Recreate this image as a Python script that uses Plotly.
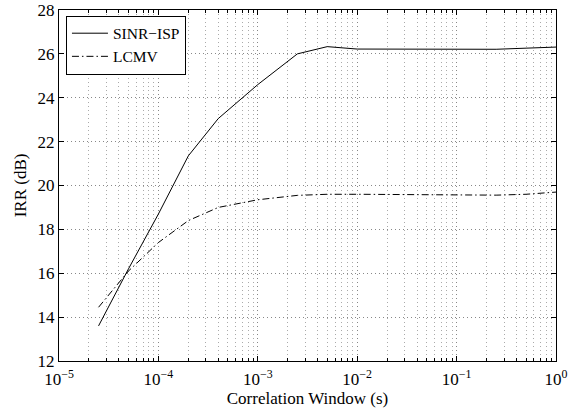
import plotly.graph_objects as go

# Data
window_s = [2.5e-5, 5e-5, 1e-4, 2e-4, 4e-4, 1e-3, 2.5e-3, 5e-3, 1e-2, 2.5e-2, 5e-2, 1e-1, 2.5e-1, 5e-1, 1.0]
sinr_isp = [13.6, 16.2, 18.7, 21.35, 23.05, 24.6, 26.0, 26.33, 26.22, 26.22, 26.22, 26.22, 26.21, 26.26, 26.31]
lcmv = [14.45, 16.1, 17.4, 18.4, 19.0, 19.35, 19.55, 19.6, 19.6, 19.58, 19.57, 19.57, 19.56, 19.6, 19.7]

x_tickvals = [1e-5, 1e-4, 1e-3, 1e-2, 1e-1, 1e0]
x_ticktext = ["10<sup>−5</sup>", "10<sup>−4</sup>", "10<sup>−3</sup>",
              "10<sup>−2</sup>", "10<sup>−1</sup>", "10<sup>0</sup>"]
y_tickvals = [12, 14, 16, 18, 20, 22, 24, 26, 28]

minor_vals = [k * 10.0 ** d for d in range(-5, 0) for k in range(2, 10)]

FONT = "Liberation Serif, Times New Roman, serif"
FS = 17

fig = go.Figure()
fig.add_trace(go.Scatter(x=window_s, y=sinr_isp, mode="lines", name="SINR−ISP",
                         line=dict(color="black", width=1)))
fig.add_trace(go.Scatter(x=window_s, y=lcmv, mode="lines", name="LCMV",
                         line=dict(color="black", width=1, dash="7px,3px,1.5px,3px")))

fig.update_layout(
    width=580, height=412,
    margin=dict(l=59, r=24, t=10, b=51, autoexpand=False),
    paper_bgcolor="white", plot_bgcolor="white",
    font=dict(family=FONT, size=FS, color="black"),
    legend=dict(x=0.014, y=0.984, xanchor="left", yanchor="top",
                bgcolor="white", bordercolor="black", borderwidth=1,
                font=dict(family=FONT, size=15.5), tracegroupgap=0,
                itemwidth=36),
    showlegend=True,
)
fig.update_xaxes(
    type="log", range=[-5, 0],
    tickvals=x_tickvals, ticktext=x_ticktext,
    showline=True, linecolor="black", linewidth=1, mirror="ticks",
    ticks="inside", ticklen=5, tickcolor="black",
    showgrid=True, gridcolor="#888", griddash="1px,3px", gridwidth=1,
    minor=dict(tickvals=minor_vals, ticks="inside", ticklen=3, tickcolor="black",
               showgrid=True, gridcolor="#aaa", griddash="1px,3px", gridwidth=1),
    zeroline=False, ticklabelstandoff=3,
    title=dict(text="Correlation Window (s)", font=dict(family=FONT, size=FS), standoff=0),
    tickfont=dict(family=FONT, size=FS),
)
fig.update_yaxes(
    range=[12, 28], tickvals=y_tickvals,
    showline=True, linecolor="black", linewidth=1, mirror="ticks",
    ticks="inside", ticklen=5, tickcolor="black",
    showgrid=True, gridcolor="#888", griddash="1px,3px", gridwidth=1,
    zeroline=False,
    title=dict(text="IRR (dB)", font=dict(family=FONT, size=FS), standoff=6),
    tickfont=dict(family=FONT, size=FS),
)

fig.write_html("out.html", config={"displayModeBar": False},
               post_script="document.body.style.margin='0';")
